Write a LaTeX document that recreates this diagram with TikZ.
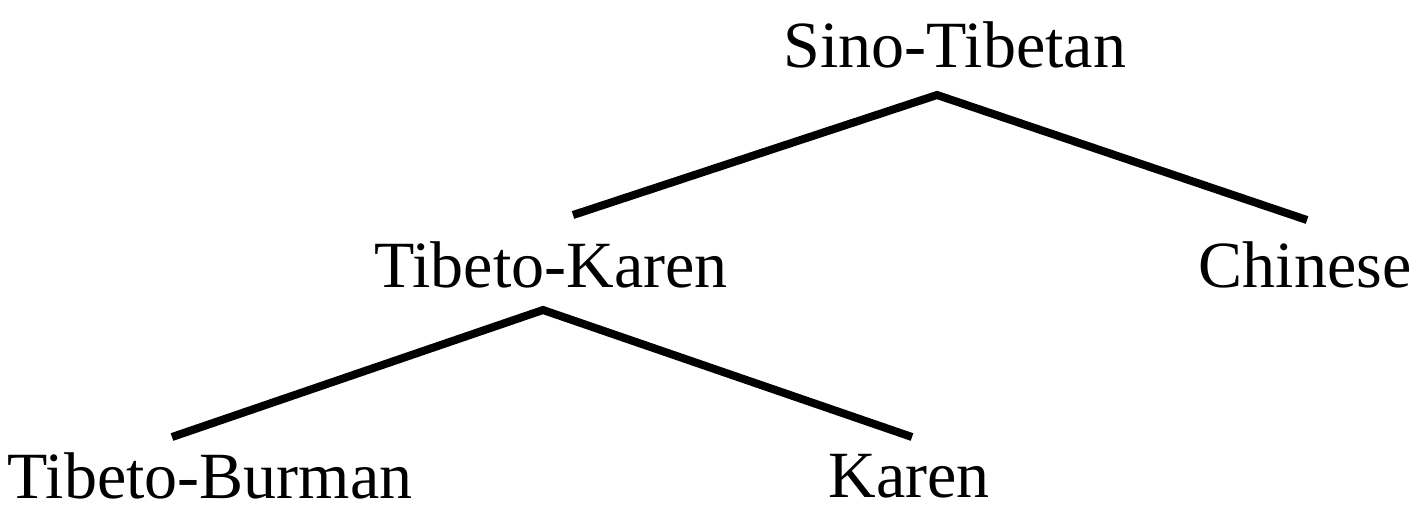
\documentclass[tikz,border=0pt]{standalone}
\usepackage{fontspec}
\setmainfont{Liberation Serif}
\begin{document}
\begin{tikzpicture}[x=0.5pt,y=-0.5pt,
  lbl/.style={inner sep=0pt,font=\fontsize{33}{39}\selectfont},
  br/.style={line width=4pt}]
\useasboundingbox (0,0) rectangle (1416,510);
\node[lbl] (st) at (955,45) {Sino-Tibetan};
\node[lbl] (tk) at (551,265) {Tibeto-Karen};
\node[lbl] (ch) at (1305,265) {Chinese};
\node[lbl] (tb) at (210,476) {Tibeto-Burman};
\node[lbl] (ka) at (909,476) {Karen};
\draw[br] ([shift={(22,-50)}]tk.center) -- ([shift={(-18,50)}]st.center) -- ([shift={(2,-45)}]ch.center);
\draw[br] ([shift={(-38,-39)}]tb.center) -- ([shift={(-8,45)}]tk.center) -- ([shift={(3,-39)}]ka.center);
\end{tikzpicture}
\end{document}
